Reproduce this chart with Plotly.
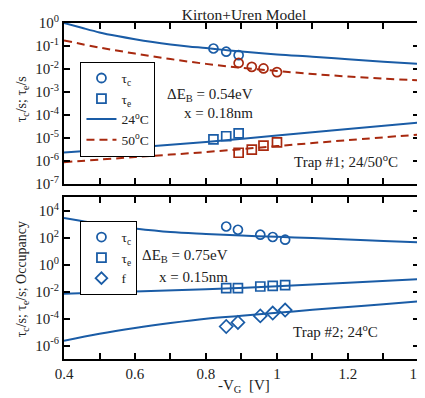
import plotly.graph_objects as go

# ---------------- data ----------------
# model curves (x = -V_G in V)
v_line_top = [0.4, 0.45, 0.5, 0.55, 0.6, 0.65, 0.7, 0.75, 0.8, 0.85, 0.9, 1.0, 1.1, 1.2, 1.3, 1.4]
tau_c_24_line = [1.0, 0.617, 0.389, 0.269, 0.195, 0.148, 0.117, 0.0955, 0.0813, 0.0676,
                 0.0575, 0.0427, 0.0339, 0.0263, 0.0204, 0.0166]
v_line_top2 = [0.4, 0.5, 0.6, 0.7, 0.8, 0.9, 1.0, 1.1, 1.2, 1.3, 1.4]
tau_c_50_line = [0.174, 0.0851, 0.0468, 0.0269, 0.0166, 0.0112, 0.00813, 0.00603, 0.00468, 0.0038, 0.00316]
v_line_e = [0.4, 0.6, 0.8, 1.0, 1.2, 1.4]
tau_e_24_line = [2.29e-6, 3.80e-6, 6.61e-6, 1.26e-5, 2.40e-5, 4.57e-5]
tau_e_50_line = [8.71e-7, 1.45e-6, 2.40e-6, 4.37e-6, 7.94e-6, 1.38e-5]

# measured points, trap #1
v_pts_24 = [0.821, 0.857, 0.892]
tau_c_24_pts = [0.0776, 0.0562, 0.0398]
tau_e_24_pts = [8.51e-6, 1.17e-5, 1.55e-5]
v_pts_50 = [0.892, 0.929, 0.962, 1.0]
tau_c_50_pts = [0.0182, 0.0123, 0.0105, 0.00724]
tau_e_50_pts = [2.24e-6, 3.09e-6, 4.57e-6, 6.31e-6]

# trap #2
v_line_b = [0.4, 0.45, 0.5, 0.6, 0.7, 0.8, 0.9, 1.0, 1.1, 1.2, 1.3, 1.4]
tau_c_b_line = [2884, 1738, 1047, 479, 263, 191, 145, 115, 93.3, 74.1, 57.5, 44.7]
v_line_b2 = [0.4, 0.6, 0.8, 1.0, 1.2, 1.4]
tau_e_b_line = [6.92e-3, 1.02e-2, 1.48e-2, 2.45e-2, 4.47e-2, 8.51e-2]
v_line_b3 = [0.4, 0.5, 0.6, 0.7, 0.8, 0.9, 1.0, 1.1, 1.2, 1.3, 1.4]
f_b_line = [2.24e-6, 7.41e-6, 2.0e-5, 4.68e-5, 9.77e-5, 1.62e-4, 2.69e-4, 4.47e-4, 7.24e-4, 1.17e-3, 1.86e-3]

v_pts_b = [0.857, 0.890, 0.953, 0.988, 1.023]
tau_c_b_pts = [676, 389, 166, 112, 70.8]
tau_e_b_pts = [0.0182, 0.0182, 0.024, 0.0269, 0.0302]
f_b_pts = [2.57e-5, 5.13e-5, 1.58e-4, 2.57e-4, 4.27e-4]

x_ticks = [0.4, 0.5, 0.6, 0.7, 0.8, 0.9, 1.0, 1.1, 1.2, 1.3, 1.4]
x_ticktext = ["0.4", "", "0.6", "", "0.8", "", "1", "", "1.2", "", "1.4"]
y_top_exps = [0, -1, -2, -3, -4, -5, -6, -7]
y_bot_exps = [4, 2, 0, -2, -4, -6]

# ---------------- style ----------------
BLUE = "#1a5ca6"
RED = "#a8290f"
FONT = "Liberation Serif"
TXT = "#222222"

# the page body has an 8px default margin; layout is set in page pixels
OFF = 8
W, H = 425, 398
PL, PR, PT, PB = 63.5, 419.3, 23.3, 359.2     # plot area in page pixels
PW, PH = PR - PL, PB - PT

def px(xp):
    return (xp - PL) / PW

def py(yp):
    return (PB - yp) / PH

fig = go.Figure()

def line(x, y, color, dash, xa, ya):
    fig.add_trace(go.Scatter(x=x, y=y, mode="lines", line=dict(color=color, width=2, dash=dash, shape="spline"),
                             showlegend=False, xaxis=xa, yaxis=ya, hoverinfo="skip"))

def pts(x, y, color, symbol, xa, ya, size=9):
    fig.add_trace(go.Scatter(x=x, y=y, mode="markers",
                             marker=dict(symbol=symbol, size=size, color=color,
                                         line=dict(color=color, width=1.7)),
                             showlegend=False, xaxis=xa, yaxis=ya))

# top panel
line(v_line_top, tau_c_24_line, BLUE, "solid", "x", "y")
line(v_line_top2, tau_c_50_line, RED, "8px,5px", "x", "y")
line(v_line_e, tau_e_24_line, BLUE, "solid", "x", "y")
line(v_line_e, tau_e_50_line, RED, "8px,5px", "x", "y")
pts(v_pts_24, tau_c_24_pts, BLUE, "circle-open", "x", "y")
pts(v_pts_24, tau_e_24_pts, BLUE, "square-open", "x", "y")
pts(v_pts_50, tau_c_50_pts, RED, "circle-open", "x", "y")
pts(v_pts_50, tau_e_50_pts, RED, "square-open", "x", "y")

# bottom panel
line(v_line_b, tau_c_b_line, BLUE, "solid", "x2", "y2")
line(v_line_b2, tau_e_b_line, BLUE, "solid", "x2", "y2")
line(v_line_b3, f_b_line, BLUE, "solid", "x2", "y2")
pts(v_pts_b, tau_c_b_pts, BLUE, "circle-open", "x2", "y2")
pts(v_pts_b, tau_e_b_pts, BLUE, "square-open", "x2", "y2")
pts(v_pts_b, f_b_pts, BLUE, "diamond-open", "x2", "y2", size=10)

# legend entries
def leg_marker(name, symbol, legend):
    fig.add_trace(go.Scatter(x=[None], y=[None], mode="markers", name=name,
                             marker=dict(symbol=symbol, size=9, color=BLUE,
                                         line=dict(color=BLUE, width=1.8)),
                             legend=legend, xaxis="x", yaxis="y"))

def leg_line(name, color, dash, legend):
    fig.add_trace(go.Scatter(x=[None], y=[None], mode="lines", name=name,
                             line=dict(color=color, width=2, dash=dash),
                             legend=legend, xaxis="x", yaxis="y"))

leg_marker("τ<sub>c</sub>", "circle-open", "legend")
leg_marker("τ<sub>e</sub>", "square-open", "legend")
leg_line("24<sup>o</sup>C", BLUE, "solid", "legend")
leg_line("50<sup>o</sup>C", RED, "8px,5px", "legend")
leg_marker("τ<sub>c</sub>", "circle-open", "legend2")
leg_marker("τ<sub>e</sub>", "square-open", "legend2")
leg_marker("f", "diamond-open", "legend2")

axis_common = dict(showline=True, linecolor="black", linewidth=2, mirror="ticks",
                   ticks="inside", ticklen=6, tickwidth=1.5, tickcolor="black",
                   showgrid=False, zeroline=False, automargin=False,
                   tickfont=dict(family=FONT, size=15, color=TXT))

leg_font = dict(family=FONT, size=13.5, color=TXT)

fig.update_layout(
    width=W, height=H,
    margin=dict(l=PL - OFF, r=W - (PR - OFF), t=PT - OFF, b=H - (PB - OFF), pad=0),
    paper_bgcolor="white", plot_bgcolor="white",
    font=dict(family=FONT, size=15, color=TXT),
    xaxis=dict(domain=[0, 1], range=[0.4, 1.4001], anchor="y", tickvals=x_ticks,
               showticklabels=False, **axis_common),
    yaxis=dict(domain=[py(184), 1], type="log", range=[-7, 0], anchor="x",
               tickvals=[10 ** e for e in y_top_exps],
               ticktext=["10<sup>%d</sup>" % e for e in y_top_exps], **axis_common),
    xaxis2=dict(domain=[0, 1], range=[0.4, 1.4001], anchor="y2", tickvals=x_ticks,
                ticktext=x_ticktext, **axis_common),
    yaxis2=dict(domain=[0, py(197.5)], type="log", range=[-7, 5], anchor="x2",
                tickvals=[10 ** e for e in y_bot_exps],
                ticktext=["10<sup>%d</sup>" % e for e in y_bot_exps], **axis_common),
    legend=dict(x=px(80), y=py(62), xanchor="left", yanchor="top", bgcolor="white",
                bordercolor="black", borderwidth=1, font=leg_font,
                itemwidth=30, tracegroupgap=0),
    legend2=dict(x=px(80), y=py(221), xanchor="left", yanchor="top", bgcolor="white",
                 bordercolor="black", borderwidth=1, font=leg_font,
                 itemwidth=30, tracegroupgap=0),
    title=dict(text="Kirton+Uren Model", x=(244 - OFF) / W, xanchor="center",
               y=1 - (14.5 - OFF) / H, yanchor="middle",
               font=dict(family=FONT, size=15.5, color=TXT)),
    showlegend=True,
)

ann_font = dict(family=FONT, size=15, color=TXT)
anns = [
    dict(x=0.938, y=-3.12, xref="x", yref="y", text="ΔE<sub>B</sub> = 0.54eV", xanchor="right"),
    dict(x=0.938, y=-3.9, xref="x", yref="y", text="x = 0.18nm", xanchor="right"),
    dict(x=1.347, y=-6.02, xref="x", yref="y", text="Trap #1; 24/50<sup>o</sup>C", xanchor="right"),
    dict(x=0.868, y=0.61, xref="x2", yref="y2", text="ΔE<sub>B</sub> = 0.75eV", xanchor="right"),
    dict(x=0.868, y=-0.88, xref="x2", yref="y2", text="x = 0.15nm", xanchor="right"),
    dict(x=1.29, y=-4.91, xref="x2", yref="y2", text="Trap #2; 24<sup>o</sup>C", xanchor="right"),
    dict(x=px(244), y=py(386), xref="paper", yref="paper", text="-V<sub>G</sub>  [V]", xanchor="center",
         yanchor="middle"),
    dict(x=px(22), y=py(100), xref="paper", yref="paper", text="τ<sub>c</sub>/s; τ<sub>e</sub>/s",
         textangle=-90, xanchor="center", yanchor="middle", size=14),
    dict(x=px(22), y=py(280), xref="paper", yref="paper",
         text="τ<sub>c</sub>/s; τ<sub>e</sub>/s; Occupancy", textangle=-90, xanchor="center",
         yanchor="middle", size=14),
]
for a in anns:
    a.setdefault("showarrow", False)
    sz = a.pop("size", 15)
    a["font"] = dict(family=FONT, size=sz, color=TXT)
    fig.add_annotation(**a)

fig.write_html("out.html")
